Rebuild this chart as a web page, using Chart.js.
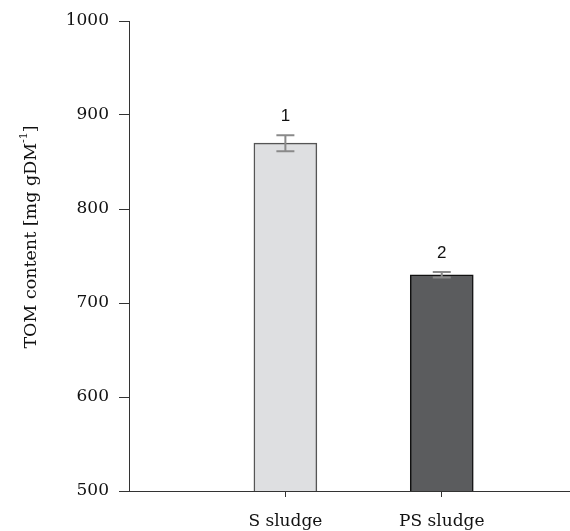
<!DOCTYPE html>
<html><head><meta charset="utf-8">
<script src="https://cdn.jsdelivr.net/npm/chart.js@4/dist/chart.umd.min.js"></script>
<style>html,body{margin:0;padding:0;background:#fff;}#wrap{width:570px;height:531px;}</style>
</head><body><div id="wrap"><canvas id="c" width="570" height="531"></canvas></div>
<script>
const categories = ["S sludge", "PS sludge"];
const values = [870, 730];
const errors = [8.5, 3];
const groupLabels = ["1", "2"];
const yTicks = [500, 600, 700, 800, 900, 1000];
const fills = ["#dedfe1", "#5b5c5e"];
const borders = ["#555555", "#111111"];

const serif = "'DejaVu Serif', 'Liberation Serif', serif";

const extras = {
  id: 'extras',
  afterDatasetsDraw(chart) {
    const ctx = chart.ctx, xs = chart.scales.x, ys = chart.scales.y;
    ctx.save();
    values.forEach((v, i) => {
      const x = xs.getPixelForValue(i + 1);
      const yt = ys.getPixelForValue(v + errors[i]);
      const yb = ys.getPixelForValue(v - errors[i]);
      ctx.strokeStyle = '#8a8a8a';
      ctx.lineWidth = 2;
      ctx.beginPath();
      ctx.moveTo(x, yt); ctx.lineTo(x, yb);
      ctx.moveTo(x - 9, yt); ctx.lineTo(x + 9, yt);
      ctx.moveTo(x - 9, yb); ctx.lineTo(x + 9, yb);
      ctx.stroke();
      ctx.fillStyle = '#111';
      ctx.font = "17px 'Liberation Sans', Arial, sans-serif";
      ctx.textAlign = 'center';
      ctx.textBaseline = 'alphabetic';
      ctx.fillText(groupLabels[i], x, yt - 14);
    });
    // y axis title with superscript
    ctx.translate(31, 237);
    ctx.rotate(-Math.PI / 2);
    ctx.fillStyle = '#111';
    const main = "TOM content [mg gDM";
    const sup = "-1";
    const end = "]";
    ctx.font = "17.5px " + serif;
    const w1 = ctx.measureText(main).width;
    ctx.font = "11px " + serif;
    const w2 = ctx.measureText(sup).width;
    ctx.font = "17.5px " + serif;
    const w3 = ctx.measureText(end).width;
    const total = w1 + w2 + w3;
    let x0 = -total / 2;
    ctx.textAlign = 'left';
    ctx.textBaseline = 'middle';
    ctx.fillText(main, x0, 0);
    ctx.font = "11px " + serif;
    ctx.fillText(sup, x0 + w1, -7);
    ctx.font = "17.5px " + serif;
    ctx.fillText(end, x0 + w1 + w2, 0);
    ctx.restore();
  }
};

new Chart(document.getElementById('c'), {
  type: 'bar',
  data: {
    datasets: [{
      data: values.map((v, i) => ({x: i + 1, y: v})),
      backgroundColor: fills,
      borderColor: borders,
      borderWidth: 1.5,
      barThickness: 63
    }]
  },
  options: {
    responsive: false,
    animation: false,
    layout: {padding: {top: 21, right: 0, left: 0, bottom: 0}},
    plugins: {legend: {display: false}, tooltip: {enabled: false}},
    scales: {
      x: {
        type: 'linear',
        offset: false,
        min: 0, max: 2.82,
        afterBuildTicks(s) { s.ticks = [{value: 1}, {value: 2}]; },
        afterFit(s) { s.height = 40; },
        grid: {display: true, offset: false, drawOnChartArea: false, tickLength: 6, color: '#333', lineWidth: 1},
        border: {display: true, color: '#333', width: 1},
        ticks: {
          callback: (v) => categories[v - 1] ?? '',
          font: {family: serif, size: 17}, color: '#111', padding: 14, maxRotation: 0, autoSkip: false
        }
      },
      y: {
        min: 500, max: 1000,
        afterBuildTicks(s) { s.ticks = yTicks.map(v => ({value: v})); },
        afterFit(s) { s.width = 129; },
        grid: {display: true, drawOnChartArea: false, tickLength: 10, color: '#333', lineWidth: 1},
        border: {display: true, color: '#333', width: 1},
        ticks: {callback: (v) => String(v), font: {family: serif, size: 17}, color: '#111', padding: 10}
      }
    }
  },
  plugins: [extras]
});
</script>
</body></html>
